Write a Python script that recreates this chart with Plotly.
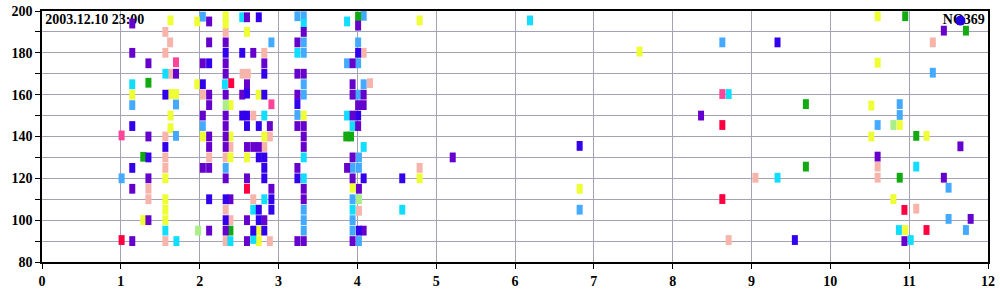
import plotly.graph_objects as go

# ---- data (x in hours, y value) per colour group ----
purple_x = [1.145, 1.145, 1.35, 1.70, 1.35, 1.145, 1.35, 1.35, 1.145,
            2.12, 2.12, 2.33, 2.04, 2.33, 2.33, 2.12, 2.12, 2.33, 2.04, 2.33, 2.33, 2.12, 2.33, 2.12, 2.33,
            2.04, 2.12, 2.33, 2.39, 2.12, 2.33,
            2.60, 2.68, 2.82, 2.60, 2.54, 2.89, 2.68, 2.75, 2.60, 2.60, 2.60, 2.82, 2.91, 2.60,
            3.32, 3.24, 3.24, 3.32, 3.24, 3.24, 3.32, 3.32, 3.32, 3.24, 3.32, 3.32, 3.24, 3.32,
            4.01, 3.94, 3.94, 3.94, 4.08, 4.08, 4.01, 3.94, 4.01, 3.94, 3.87, 3.94, 4.02, 4.08, 3.94,
            5.21, 8.36, 10.60, 11.44, 11.65, 11.44, 11.78, 10.94]
purple_y = [194, 180, 175, 170, 140, 115, 120, 100, 90,
            195, 185, 185, 175, 175, 170, 160, 155, 160, 150, 150, 145, 140, 140, 135, 135,
            125, 125, 120, 110, 95, 95,
            197, 180, 175, 165, 160, 145, 135, 135, 135, 120, 100, 100, 115, 90,
            190, 185, 170, 170, 160, 145, 145, 140, 135, 125, 115, 110, 90, 90,
            193, 175, 165, 160, 160, 155, 155, 150, 145, 130, 125, 120, 115, 95, 90,
            130, 150, 130.4, 190.6, 135.3, 120.3, 100.6, 90]

blue_x = [2.75, 1.145, 1.565, 1.565, 1.35, 1.145, 2.04, 2.12, 2.33, 2.54, 2.82, 2.60, 2.82, 3.24,
          2.54, 2.60, 2.60, 2.75, 2.75, 2.82, 2.82, 2.82, 3.24, 2.12, 2.33, 2.91, 2.91, 2.75, 2.33,
          2.75, 2.68, 2.82, 4.01, 4.01, 4.08, 4.02, 4.57, 6.82, 9.33, 9.55]
blue_y = [197, 145, 160, 135, 130, 125, 165, 175, 180, 180, 170, 160.5, 160, 155.5,
          150, 150, 145, 145, 130, 130, 125, 120, 120, 110, 110, 110, 105, 105, 100,
          100, 95, 95, 180, 150, 120, 95, 120, 135.5, 185, 90.5]

pink_x = [1.565, 1.625, 1.565, 1.63, 1.565, 1.565, 1.565, 1.35, 1.35, 1.565,
          2.33, 2.545, 2.61, 2.04, 2.82, 2.68, 2.89, 2.82, 2.39, 2.12, 2.33, 2.33, 2.39, 2.68, 2.33, 2.89,
          4.08, 4.16, 4.02, 4.79, 8.71, 9.05, 10.60, 10.60, 11.09, 11.30]
pink_y = [190, 185, 180, 170, 140, 130, 125, 115, 110, 90,
          190, 170, 170, 160, 180, 150, 140, 135, 135, 130, 130, 105, 100, 110, 90, 90,
          180, 165.5, 104.5, 125, 90.5, 120.3, 125.6, 120.3, 105.5, 185]

yellow_x = [1.63, 1.97, 2.33, 2.33, 2.60, 1.145, 1.63, 1.70, 1.97, 2.75, 2.39, 1.63, 1.63, 3.32,
            2.04, 2.39, 2.82, 2.39, 2.60, 1.565, 1.565, 1.565, 1.565, 1.285, 2.75, 2.75,
            3.94, 4.79, 4.79, 6.82, 7.58, 10.60, 10.60, 10.52, 10.88, 10.52, 11.22, 10.80, 10.95]
yellow_y = [195.5, 195, 197.5, 194, 190, 160, 160.3, 160.3, 165, 160, 155, 150, 144, 150,
            140, 140, 140, 130, 130, 120, 110, 105, 100, 100, 95, 90,
            115.5, 195.5, 120, 115, 180.6, 197.5, 175.3, 154.8, 145.5, 140, 140.3, 110.1, 95.3]

lightblue_x = [1.145, 1.70, 1.70, 1.01, 2.04, 2.04, 2.33, 2.91, 3.24, 3.32, 3.32, 3.32, 3.32, 3.32,
               3.24, 3.32, 3.32, 3.32,
               4.08, 4.01, 3.87, 4.01, 4.08, 4.01, 4.02, 4.02, 3.94, 3.94, 3.94, 3.94, 4.02,
               6.82, 8.63, 11.30, 10.88, 10.88, 10.60, 11.50, 11.50, 11.72]
lightblue_y = [155, 155.3, 140.3, 120, 197.3, 145, 125, 185, 197.5, 197.5, 185, 180, 165, 160,
               150.3, 105, 100, 95,
               197.7, 185, 175, 175, 165, 160, 130, 125, 125, 110, 100, 95, 90,
               105, 185, 170.5, 155.5, 150.3, 145.5, 115.5, 100.6, 95.3]

cyan_x = [1.145, 1.565, 1.565, 1.705, 2.32, 2.54, 3.32, 3.24, 2.82, 3.32, 3.32, 2.82, 2.68, 2.39, 2.68,
          3.87, 3.87, 3.94, 4.08, 3.94, 4.57, 6.19, 8.71, 9.33, 11.09, 10.87, 11.02]
cyan_y = [165, 170, 95, 90, 165, 197, 194, 180, 150, 130, 120, 110, 105, 90, 91,
          195, 150, 145, 135, 105, 105, 195.5, 160.3, 120.3, 125.6, 95.3, 90.5]

hotpink_x = [1.01, 1.70, 2.91, 8.63]
hotpink_y = [140.5, 175.5, 155.4, 160.3]

red_x = [2.40, 2.60, 1.01, 8.63, 8.63, 10.94, 11.22]
red_y = [165.5, 115, 90.5, 145.5, 110.1, 104.9, 95.3]

green_x = [1.35, 1.285, 2.39, 4.01, 3.86, 3.92, 9.69, 9.69, 10.95, 11.72, 11.09, 10.88]
green_y = [165.7, 130.3, 95, 197.3, 140, 140, 155.5, 125.6, 197.5, 190.6, 140.3, 120.3]

lightgreen_x = [2.33, 1.98, 4.02, 10.80]
lightgreen_y = [155, 95, 110, 145.5]

circle_x = [11.65]
circle_y = [195.4]

title_left = "2003.12.10 23:00"
title_right = "NO369"

y_ticks = list(range(80, 201, 10))
y_ticktext = [str(v) if v % 20 == 0 else "" for v in y_ticks]

# ---- figure ----
fig = go.Figure()

serif = "Liberation Serif, Times New Roman, serif"

fig.add_trace(go.Scatter(x=[0.04], y=[195.5], mode="text", text=[title_left],
                         textposition="middle right",
                         textfont=dict(family=serif, size=14, color="black", weight="bold"),
                         hoverinfo="skip", showlegend=False))
fig.add_trace(go.Scatter(x=[11.96], y=[195.5], mode="text", text=[title_right],
                         textposition="middle left",
                         textfont=dict(family=serif, size=14, color="black", weight="bold"),
                         hoverinfo="skip", showlegend=False))

groups = [
    (pink_x, pink_y, "#f7b4aa"),
    (yellow_x, yellow_y, "#eeff33"),
    (lightblue_x, lightblue_y, "#44aaff"),
    (cyan_x, cyan_y, "#11ddff"),
    (lightgreen_x, lightgreen_y, "#aaee88"),
    (green_x, green_y, "#11aa11"),
    (hotpink_x, hotpink_y, "#ff4499"),
    (red_x, red_y, "#ff0040"),
    (purple_x, purple_y, "#6600cc"),
    (blue_x, blue_y, "#3300ee"),
]
for gx, gy, c in groups:
    fig.add_trace(go.Scatter(
        x=gx, y=gy, mode="markers",
        marker=dict(symbol="line-ns", size=7, color=c, line=dict(width=6, color=c)),
        showlegend=False, hoverinfo="skip"))

fig.add_trace(go.Scatter(x=circle_x, y=circle_y, mode="markers",
                         marker=dict(symbol="circle", size=10, color="#2200dd"),
                         showlegend=False, hoverinfo="skip"))

fig.update_layout(
    width=1000, height=300,
    margin=dict(l=42, r=12, t=11, b=38),
    paper_bgcolor="white", plot_bgcolor="white",
    showlegend=False,
)
fig.update_xaxes(range=[0, 12], dtick=1, tick0=0, automargin=False,
                 showgrid=True, gridcolor="#a3a3b5", gridwidth=1,
                 showline=True, linecolor="black", linewidth=1.5, mirror=True,
                 ticks="outside", ticklen=5, tickcolor="black",
                 tickfont=dict(family=serif, size=14, color="black", weight="bold"),
                 zeroline=False)
fig.update_yaxes(range=[80, 200], tickvals=y_ticks, ticktext=y_ticktext, automargin=False,
                 showgrid=True, gridcolor="#a3a3b5", gridwidth=1,
                 showline=True, linecolor="black", linewidth=1.5, mirror=True,
                 ticks="outside", ticklen=5, tickcolor="black",
                 tickfont=dict(family=serif, size=14, color="black", weight="bold"),
                 zeroline=False)

fig.write_html("out.html")
